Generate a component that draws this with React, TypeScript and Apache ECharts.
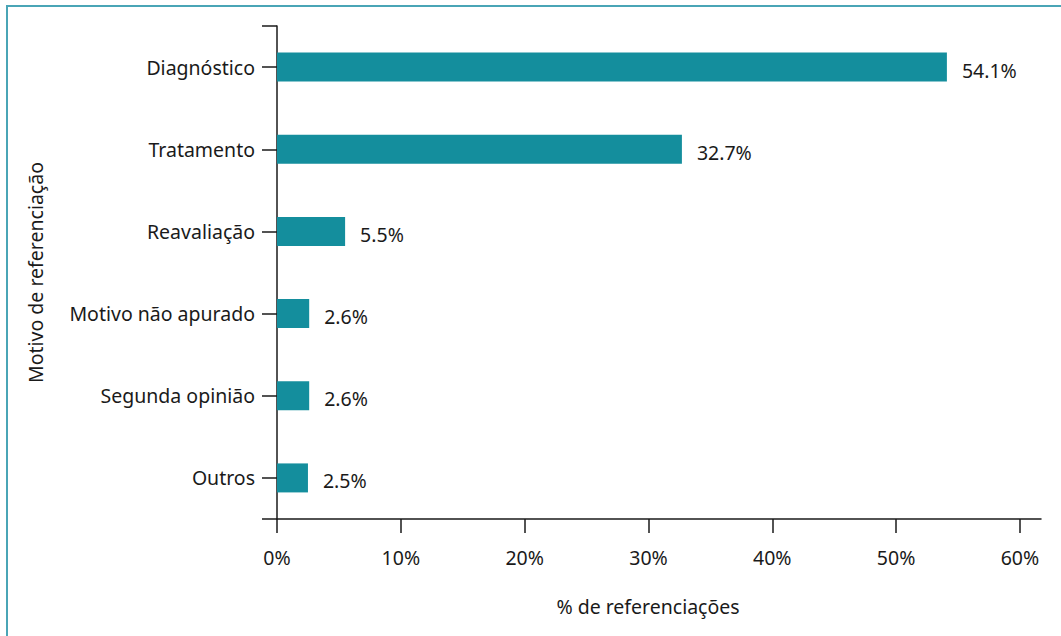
import React, { useEffect, useRef } from "react";
import * as echarts from "echarts";

const categories = [
  "Diagnóstico",
  "Tratamento",
  "Reavaliação",
  "Motivo não apurado",
  "Segunda opinião",
  "Outros",
];
const values = [54.1, 32.7, 5.5, 2.6, 2.6, 2.5];
const xAxisName = "% de referenciações";
const yAxisName = "Motivo de referenciação";

const FONT = "'Noto Sans', sans-serif";
const FS = 19.5;
const BAR = "#148e9d";
const INK = "#1a1a1a";

export default function App() {
  const ref = useRef<HTMLDivElement>(null);
  useEffect(() => {
    if (!ref.current) return;
    const chart = echarts.init(ref.current, undefined, { renderer: "svg" });
    chart.setOption({
      animation: false,
      backgroundColor: "#ffffff",
      textStyle: { fontFamily: FONT },
      graphic: [
        {
          type: "polyline",
          shape: { points: [[7, 700], [7, 6], [1100, 6]] },
          style: { stroke: "#4aa5b6", lineWidth: 2, fill: "none" },
        },
      ],
      grid: { left: 277, right: 20, top: 26, bottom: 117, containLabel: false },
      xAxis: {
        type: "value",
        min: 0,
        max: 61.7,
        interval: 10,
        position: "bottom",
        name: xAxisName,
        nameLocation: "middle",
        nameGap: 77,
        nameTextStyle: { fontSize: FS, color: INK, fontFamily: FONT, padding: [0, 22, 0, 0] },
        axisLine: { show: true, lineStyle: { color: INK, width: 1.5 } },
        axisTick: { show: true, length: 14, lineStyle: { color: INK, width: 1.5 } },
        axisLabel: {
          showMaxLabel: false,
          margin: 28,
          fontSize: FS,
          color: INK,
          fontFamily: FONT,
          formatter: (v: number) => `${v}%`,
        },
        splitLine: { show: false },
      },
      yAxis: [
        {
          type: "category",
          data: categories,
          inverse: true,
          name: yAxisName,
          nameLocation: "middle",
          nameGap: 232,
          nameTextStyle: { fontSize: FS, color: INK, fontFamily: FONT },
          axisLine: { show: true, lineStyle: { color: INK, width: 1.5 } },
          axisTick: { show: true, alignWithLabel: true, length: 15, lineStyle: { color: INK, width: 1.5 } },
          axisLabel: { margin: 22, fontSize: FS, color: INK, fontFamily: FONT },
        },
        {
          type: "value",
          min: 0,
          max: 1,
          interval: 1,
          position: "left",
          axisLine: { show: false },
          axisTick: { show: true, length: 15, lineStyle: { color: INK, width: 1.5 } },
          axisLabel: { show: false },
          splitLine: { show: false },
        },
      ],
      series: [
        {
          type: "bar",
          data: values,
          yAxisIndex: 0,
          barWidth: 29,
          itemStyle: { color: BAR },
          label: {
            show: true,
            position: "right",
            distance: 15,
            offset: [0, 3],
            fontSize: FS,
            color: INK,
            fontFamily: FONT,
            formatter: (p: any) => `${p.value}%`,
          },
        },
      ],
    });
    return () => chart.dispose();
  }, []);
  return (
    <div
      ref={ref}
      style={{ position: "fixed", left: 0, top: 0, width: 1061, height: 636, background: "#fff" }}
    />
  );
}
